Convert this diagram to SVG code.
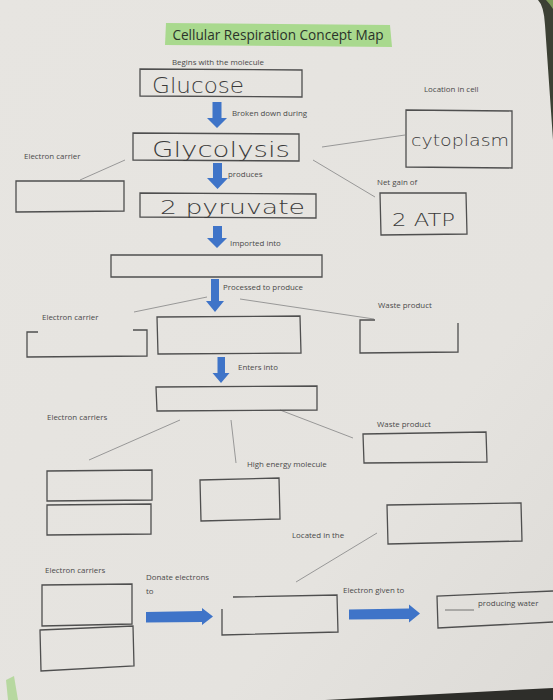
<svg xmlns="http://www.w3.org/2000/svg" width="553" height="700" viewBox="0 0 553 700">
<defs>
<style>
.lbl{font-family:"Open Sans","Noto Sans","Liberation Sans",sans-serif;font-size:7.9px;fill:#4a4a4a}
.hand{font-family:"DejaVu Sans","Liberation Sans",sans-serif;font-weight:200;fill:#3a3a3a}
.box{fill:none;stroke:#4f4f4f;stroke-width:1.3}
.ln{stroke:#8f8f8f;stroke-width:0.9;fill:none}
.arr{fill:#3f74c8}
</style>
<linearGradient id="paper" x1="0" y1="0" x2="1" y2="1">
<stop offset="0" stop-color="#e7e5e1"/>
<stop offset="0.7" stop-color="#e5e3df"/>
<stop offset="1" stop-color="#dddbd7"/>
</linearGradient>
</defs>
<rect width="553" height="700" fill="url(#paper)"/>
<path d="M538,0 Q544,6 545,25 L553,140 L553,0 Z" fill="#3c4034"/>
<path d="M546,0 Q550,4 553,9 L553,0 Z" fill="#7f9a5a"/>
<path d="M325,700 L553,688 L553,700 Z" fill="#2e2e2a"/>
<path d="M6,680 L14,676 L18,700 L8,700 Z" fill="#b7d8a0"/>

<g id="title">
<polygon points="166,23 390,25 392,47 165,45" fill="#a9d98e"/>
<text x="278" y="40" text-anchor="middle" font-family="Open Sans,Noto Sans,sans-serif" font-size="13.6" fill="#2b332a">Cellular Respiration Concept Map</text>
</g>

<g id="connectors">
<line class="ln" x1="80" y1="180" x2="125" y2="160"/>
<line class="ln" x1="322" y1="147" x2="405" y2="135"/>
<line class="ln" x1="313" y1="160" x2="375" y2="197"/>
<line class="ln" x1="134" y1="312" x2="207" y2="297"/>
<line class="ln" x1="240" y1="299" x2="374" y2="319"/>
<line class="ln" x1="180" y1="420" x2="89" y2="460"/>
<line class="ln" x1="231" y1="420" x2="236" y2="463"/>
<line class="ln" x1="280" y1="410" x2="353" y2="438"/>
<line class="ln" x1="377" y1="533" x2="296" y2="582"/>
<polygon class="arr" points="212.5,102 221.5,102 221.5,118 227,118 217,128 207,118 212.5,118"/>
<polygon class="arr" points="213,163 222,163 222,178 228,178 217.5,189 207,178 213,178"/>
<polygon class="arr" points="213,226 222,226 222,238 227,238 217,248 207,238 213,238"/>
<polygon class="arr" points="211,279 219,279 219,301 224,301 215,312 206,301 211,301"/>
<polygon class="arr" points="217.5,357 225,357 225,373 229.5,373 221,383 212.5,373 217.5,373"/>
<polygon class="arr" points="146,612 202,611 202,608 213,616.5 202,625 202,622 146,622.5"/>
<polygon class="arr" points="349,609.5 409,608.5 409,604.5 420,613.5 409,622.5 409,619 349,619.5"/>
</g>

<g id="n-begins"><text class="lbl" x="172" y="65">Begins with the molecule</text></g>
<g id="n-glucose">
<polygon class="box" points="140,69 302,70 302,97 140,96"/>
<text class="hand" x="152" y="93" font-size="22" textLength="92" lengthAdjust="spacingAndGlyphs">Glucose</text>
</g>
<g id="l-broken"><text class="lbl" x="232" y="116">Broken down during</text></g>
<g id="n-glycolysis">
<polygon class="box" points="133,133 299,134 299,161 133,160"/>
<text class="hand" x="152" y="157" font-size="22" textLength="138" lengthAdjust="spacingAndGlyphs">Glycolysis</text>
</g>
<g id="l-location"><text class="lbl" x="424" y="92">Location in cell</text></g>
<g id="n-cytoplasm">
<polygon class="box" points="406,110 512,111 512,168 406,167"/>
<text class="hand" x="411" y="146" font-size="15" textLength="98" lengthAdjust="spacingAndGlyphs">cytoplasm</text>
</g>
<g id="l-ec1"><text class="lbl" x="24" y="159">Electron carrier</text></g>
<g id="n-ec1"><polygon class="box" points="16,181 124,181 124,211 16,212"/></g>
<g id="l-produces"><text class="lbl" x="228" y="177">produces</text></g>
<g id="n-pyruvate">
<polygon class="box" points="140,193 316,194 316,218 140,217"/>
<text class="hand" x="160" y="214" font-size="20" textLength="145" lengthAdjust="spacingAndGlyphs">2 pyruvate</text>
</g>
<g id="l-netgain"><text class="lbl" x="377" y="185">Net gain of</text></g>
<g id="n-atp">
<polygon class="box" points="380,193 466,193 467,234 381,235"/>
<text class="hand" x="392" y="226" font-size="18" textLength="63" lengthAdjust="spacingAndGlyphs">2 ATP</text>
</g>
<g id="l-imported"><text class="lbl" x="230" y="246">Imported into</text></g>
<g id="n-mito"><polygon class="box" points="111,255 322,255 322,277 111,277"/></g>
<g id="l-processed"><text class="lbl" x="223" y="290">Processed to produce</text></g>
<g id="l-ec2"><text class="lbl" x="42" y="320">Electron carrier</text></g>
<g id="n-ec2"><path class="box" d="M38,332 H27 V357 L147,356 V330 H133"/></g>
<g id="n-acetyl"><polygon class="box" points="157,317 300,316 301,353 158,354"/></g>
<g id="l-waste1"><text class="lbl" x="378" y="308">Waste product</text></g>
<g id="n-waste1"><path class="box" d="M375,320 H360 V353 L458,352 V323"/></g>
<g id="l-enters"><text class="lbl" x="238" y="370">Enters into</text></g>
<g id="n-krebs"><polygon class="box" points="156,387 317,386 317,410 157,411"/></g>
<g id="l-ecs1"><text class="lbl" x="47" y="420">Electron carriers</text></g>
<g id="l-waste2"><text class="lbl" x="377" y="427">Waste product</text></g>
<g id="n-waste2"><polygon class="box" points="363,434 486,432 487,462 364,463"/></g>
<g id="l-high"><text class="lbl" x="247" y="467">High energy molecule</text></g>
<g id="n-ecs1a"><polygon class="box" points="47,471 152,470 152,500 47,501"/></g>
<g id="n-ecs1b"><polygon class="box" points="47,505 151,504 151,534 47,535"/></g>
<g id="n-atp2"><polygon class="box" points="200,480 279,478 280,519 201,521"/></g>
<g id="n-located"><polygon class="box" points="387,505 521,503 522,541 388,544"/></g>
<g id="l-located"><text class="lbl" x="292" y="538">Located in the</text></g>
<g id="l-ecs2"><text class="lbl" x="45" y="573">Electron carriers</text></g>
<g id="n-ecs2a"><polygon class="box" points="42,585 132,584 132,624 42,626"/></g>
<g id="n-ecs2b"><polygon class="box" points="40,630 133,626 134,666 41,671"/></g>
<g id="l-donate"><text class="lbl" x="146" y="580">Donate electrons</text><text class="lbl" x="146" y="594">to</text></g>
<g id="n-etc"><path class="box" d="M233,597 L337,595 L338,632 L222,635 V609"/></g>
<g id="l-given"><text class="lbl" x="343" y="593">Electron given to</text></g>
<g id="n-water">
<path class="box" d="M553,591 L437,596 L438,628 L553,622"/>
<line x1="445" y1="610" x2="474" y2="610" stroke="#555" stroke-width="0.8"/>
<text class="lbl" x="478" y="606">producing water</text>
</g>
</svg>
